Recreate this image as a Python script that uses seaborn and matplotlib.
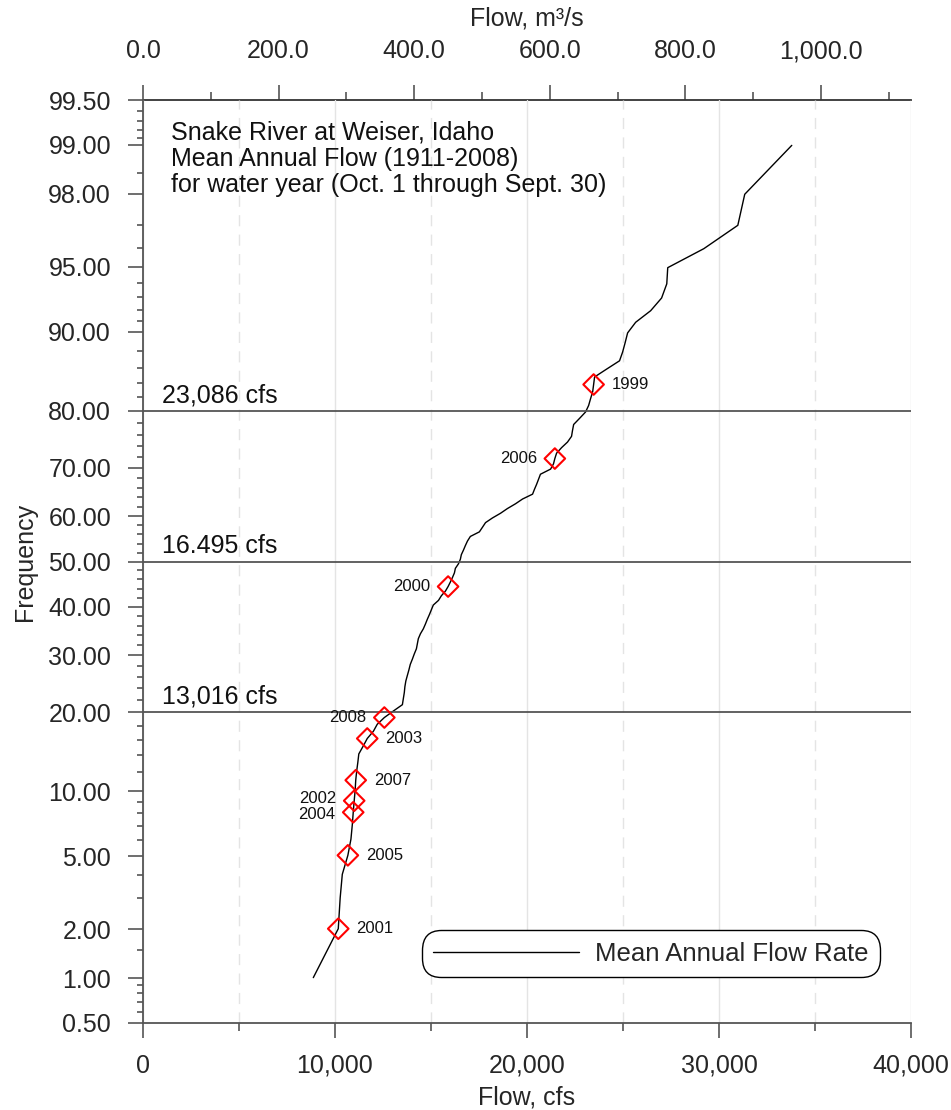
import numpy as np
import pandas as pd
import matplotlib
matplotlib.use("Agg")
import matplotlib.pyplot as plt
import seaborn as sns
from statistics import NormalDist
from matplotlib.ticker import FixedLocator, FuncFormatter, NullFormatter, MultipleLocator

# ---- data -------------------------------------------------------------
# Weibull plotting positions (rank / (n + 1)) for 98 water years, in percent
frequency = [
    1.01, 2.02, 3.03, 4.04, 5.05, 6.06, 7.07, 8.08, 9.09, 10.10,
    11.11, 12.12, 13.13, 14.14, 15.15, 16.16, 17.17, 18.18, 19.19, 20.20,
    21.21, 22.22, 23.23, 24.24, 25.25, 26.26, 27.27, 28.28, 29.29, 30.30,
    31.31, 32.32, 33.33, 34.34, 35.35, 36.36, 37.37, 38.38, 39.39, 40.40,
    41.41, 42.42, 43.43, 44.44, 45.45, 46.46, 47.47, 48.48, 49.49, 50.51,
    51.52, 52.53, 53.54, 54.55, 55.56, 56.57, 57.58, 58.59, 59.60, 60.61,
    61.62, 62.63, 63.64, 64.65, 65.66, 66.67, 67.68, 68.69, 69.70, 70.71,
    71.72, 72.73, 73.74, 74.75, 75.76, 76.77, 77.78, 78.79, 79.80, 80.81,
    81.82, 82.83, 83.84, 84.85, 85.86, 86.87, 87.88, 88.89, 89.90, 90.91,
    91.92, 92.93, 93.94, 94.95, 95.96, 96.97, 97.98, 98.99,
]
# mean annual flow (cfs), sorted ascending
flow_cfs = [
    8870, 10170, 10270, 10380, 10670, 10830, 10900, 10950, 11000, 11050,
    11080, 11130, 11190, 11240, 11470, 11680, 12000, 12200, 12570, 13040,
    13510, 13560, 13610, 13640, 13690, 13770, 13850, 13920, 14030, 14130,
    14240, 14290, 14340, 14450, 14600, 14710, 14810, 14920, 15020, 15120,
    15390, 15540, 15750, 15890, 16010, 16120, 16220, 16270, 16430, 16530,
    16580, 16690, 16790, 16900, 17050, 17520, 17680, 17840, 18200, 18620,
    18980, 19400, 19770, 20290, 20390, 20500, 20600, 20700, 21230, 21380,
    21450, 21540, 21800, 22110, 22320, 22370, 22430, 22740, 23050, 23210,
    23310, 23420, 23470, 23520, 24150, 24820, 24980, 25110, 25240, 25660,
    26440, 27010, 27280, 27330, 29210, 30980, 31340, 33790,
]

# recent water years and their rank in the sorted record
recent_years = ["2001", "2005", "2004", "2002", "2007", "2003", "2008", "2000", "2006", "1999"]
recent_rank = [2, 5, 8, 9, 11, 16, 19, 44, 71, 83]
recent_side = ["right", "right", "left", "left", "right", "right", "left", "left", "left", "right"]

# reference flow levels
ref_freq = [80, 50, 20]
ref_labels = ["23,086 cfs", "16.495 cfs", "13,016 cfs"]

major_freq = [0.5, 1, 2, 5, 10, 20, 30, 40, 50, 60, 70, 80, 90, 95, 98, 99, 99.5]
minor_freq = [0.6, 0.7, 0.8, 0.9, 1.5, 3, 4, 6, 7, 8, 9, 12, 14, 16, 18,
              22, 24, 26, 28, 32, 34, 36, 38, 42, 44, 46, 48, 52, 54, 56, 58,
              62, 64, 66, 68, 72, 74, 76, 78, 82, 84, 86, 88, 91, 92, 93, 94,
              96, 97, 98.5, 99.1, 99.2, 99.3, 99.4]

CFS_TO_CMS = 0.0283168

# ---- normal-probability scale -------------------------------------------
_nd = NormalDist()


def prob_fwd(p):
    p = np.asarray(p, dtype=float)
    q = np.clip(p / 100.0, 1e-7, 1 - 1e-7)
    out = [_nd.inv_cdf(v) if np.isfinite(v) else np.nan for v in q.ravel()]
    return np.array(out, dtype=float).reshape(q.shape)


def prob_inv(z):
    z = np.asarray(z, dtype=float)
    out = [_nd.cdf(v) * 100.0 if np.isfinite(v) else np.nan for v in z.ravel()]
    return np.array(out, dtype=float).reshape(z.shape)


# ---- figure -------------------------------------------------------------
sns.set_theme(style="white")
plt.rcParams["font.family"] = ["Liberation Sans", "DejaVu Sans"]
plt.rcParams["axes.unicode_minus"] = False

W, H = 951, 1110
fig = plt.figure(figsize=(W / 100, H / 100), dpi=100)
x0, x1, ytop, ybot = 143, 911, 100, 1023
ax = fig.add_axes([x0 / W, 1 - ybot / H, (x1 - x0) / W, (ybot - ytop) / H])

ax.set_yscale("function", functions=(prob_fwd, prob_inv))

df = pd.DataFrame({"flow": flow_cfs, "freq": frequency})
sns.lineplot(data=df, x="flow", y="freq", sort=False, estimator=None,
             color="black", linewidth=1.0, ax=ax, label="Mean Annual Flow Rate")

hl = pd.DataFrame({
    "flow": [flow_cfs[r - 1] for r in recent_rank],
    "freq": [frequency[r - 1] for r in recent_rank],
    "year": recent_years,
    "side": recent_side,
})
sns.scatterplot(data=hl, x="flow", y="freq", marker="D", s=110,
                facecolor="none", edgecolor="#ff0000", linewidth=1.5,
                legend=False, ax=ax, zorder=4)

# small vertical nudges keep the two stacked labels (2002 / 2004) legible
nudge = {"2002": 1.5, "2004": -1.5}
for _, row in hl.iterrows():
    dx = 13 if row["side"] == "right" else -13
    ha = "left" if row["side"] == "right" else "right"
    ax.annotate(row["year"], xy=(row["flow"], row["freq"]),
                xytext=(dx, nudge.get(row["year"], 0)),
                textcoords="offset points", ha=ha, va="center", fontsize=12,
                color="#111111")

line_col = "#555555"
for f, lab in zip(ref_freq, ref_labels):
    ax.axhline(f, color=line_col, linewidth=1.3, zorder=2)
    ax.annotate(lab, xy=(0.025, f), xycoords=("axes fraction", "data"),
                xytext=(0, 6), textcoords="offset points", ha="left",
                va="baseline", fontsize=18, color="#111111")

ax.set_xlim(0, 40000)
ax.set_ylim(0.5, 99.5)

# x axis (cfs)
ax.xaxis.set_major_locator(MultipleLocator(10000))
ax.xaxis.set_minor_locator(MultipleLocator(5000))
ax.xaxis.set_major_formatter(FuncFormatter(lambda v, _: f"{v:,.0f}"))
ax.grid(which="major", axis="x", color="#e4e4e4", linewidth=1.0)
ax.grid(which="minor", axis="x", color="#e4e4e4", linewidth=1.0, linestyle=(0, (8, 6)))
ax.grid(which="both", axis="y", visible=False)

# y axis (probability)
ax.yaxis.set_major_locator(FixedLocator(major_freq))
ax.yaxis.set_minor_locator(FixedLocator(minor_freq))
ax.yaxis.set_major_formatter(FuncFormatter(lambda v, _: f"{v:.2f}"))
ax.yaxis.set_minor_formatter(NullFormatter())

ax.tick_params(axis="x", which="major", direction="out", length=11, width=1.2,
               color=line_col, labelsize=18, pad=11, bottom=True)
ax.tick_params(axis="x", which="minor", direction="out", length=6, width=1.2,
               color=line_col, bottom=True)
ax.tick_params(axis="y", which="major", direction="out", length=11, width=1.2,
               color=line_col, labelsize=18, pad=12, left=True)
ax.tick_params(axis="y", which="minor", direction="out", length=4.5, width=1.2,
               color=line_col, left=True)

for side in ["left", "bottom"]:
    ax.spines[side].set_color(line_col)
    ax.spines[side].set_linewidth(1.3)
ax.spines["right"].set_visible(False)
ax.spines["top"].set_visible(False)

ax.set_xlabel("Flow, cfs", fontsize=18, labelpad=5.5)
ax.set_ylabel("Frequency", fontsize=18, labelpad=8)

# top axis (m3/s)
sec = ax.secondary_xaxis("top", functions=(lambda q: q * CFS_TO_CMS,
                                           lambda m: m / CFS_TO_CMS))
sec.xaxis.set_major_locator(FixedLocator([0, 200, 400, 600, 800, 1000]))
sec.xaxis.set_minor_locator(FixedLocator([100, 300, 500, 700, 900, 1100]))
sec.xaxis.set_major_formatter(FuncFormatter(lambda v, _: f"{v:,.1f}"))
sec.tick_params(axis="x", which="major", direction="out", length=11, width=1.2,
                color=line_col, labelsize=18, pad=15.5)
sec.tick_params(axis="x", which="minor", direction="out", length=6, width=1.2,
                color=line_col)
sec.spines["top"].set_color("#333333")
sec.spines["top"].set_linewidth(1.3)
sec.set_xlabel("Flow, m\u00b3/s", fontsize=18, labelpad=9.5)

# station caption
ax.text(0.037, 0.978,
        "Snake River at Weiser, Idaho\nMean Annual Flow (1911-2008)\n"
        "for water year (Oct. 1 through Sept. 30)",
        transform=ax.transAxes, ha="left", va="top", fontsize=18,
        linespacing=1.12, color="#111111")

leg = ax.legend(loc="lower right",
                bbox_to_anchor=((877 - x0) / (x1 - x0), (ybot - 974) / (ybot - ytop)),
                borderaxespad=0, fontsize=18.5, handlelength=5.7, handletextpad=0.62,
                borderpad=0.32, frameon=True, fancybox=True)
frame = leg.get_frame()
frame.set_edgecolor("black")
frame.set_linewidth(1.0)
frame.set_facecolor("white")
frame.set_alpha(1)
frame.set_boxstyle("round,pad=0.12,rounding_size=0.75")
for h in leg.get_lines():
    h.set_linewidth(1.0)
    h.set_color("black")

fig.savefig("out.png", dpi=100)
